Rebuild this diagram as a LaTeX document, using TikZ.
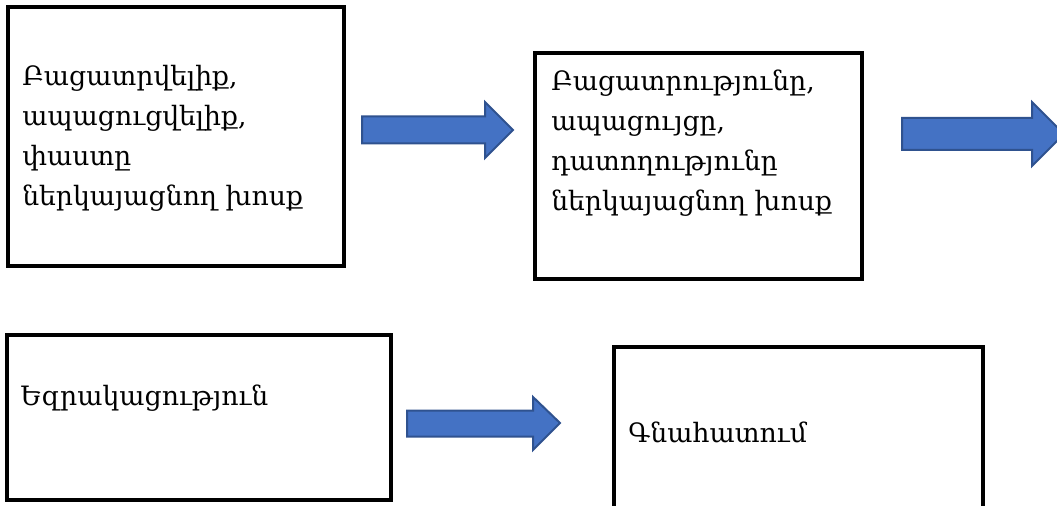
\documentclass[tikz,border=0pt]{standalone}
\usepackage{fontspec}
\setmainfont{DejaVu Serif}
\usetikzlibrary{calc}
\definecolor{arrowfill}{HTML}{4472C4}
\definecolor{arrowdraw}{HTML}{2F528F}
\tikzset{
  box/.style={draw=black, line width=2.4pt, fill=white, inner sep=0pt, outer sep=0pt, anchor=north west},
  boxtext/.style={inner sep=0pt, anchor=base west, align=left, font=\fontsize{20}{30}\selectfont},
  blockarrow/.style={fill=arrowfill, draw=arrowdraw, line width=1.5pt, line join=miter},
}
\begin{document}
\begin{tikzpicture}[x=0.75pt,y=-0.75pt]
\useasboundingbox (0,0) rectangle (1057,506);
% boxes
\node[box, minimum width=252pt, minimum height=194.25pt] (b1) at (8,7) {};
\node[box, minimum width=245.25pt, minimum height=169.5pt] (b2) at (535,53) {};
\node[box, minimum width=288pt, minimum height=123.75pt] (b3) at (7,335) {};
\node[box, minimum width=276.75pt, minimum height=150pt] (b4) at (614,347) {};
% texts (anchor = baseline of the last line)
\node[boxtext] (t1) at (22,206) {Բացատրվելիք,\\ապացուցվելիք,\\փաստը\\ներկայացնող խոսք};
\node[boxtext] (t2) at (551,211) {Բացատրությունը,\\ապացույցը,\\դատողությունը\\ներկայացնող խոսք};
\node[boxtext] (t3) at (20,405) {Եզրակացություն};
\node[boxtext] (t4) at (628,442) {Գնահատում};
% arrows
\coordinate (a1tip) at (513,130);
\coordinate (a1s) at ($(b1.east |- a1tip)+(18,0)$);
\draw[blockarrow] ($(a1s)+(0,-13.5)$) -- ++(123,0) -- ++(0,-14.5) -- (a1tip) -- ++(-28,28) -- ++(0,-14.5) -- ++(-123,0) -- cycle;
\coordinate (a2tip) at (1064,134);
\coordinate (a2s) at ($(b2.east |- a2tip)+(40,0)$);
\draw[blockarrow] ($(a2s)+(0,-16)$) -- ++(130,0) -- ++(0,-16) -- (a2tip) -- ++(-32,32) -- ++(0,-16) -- ++(-130,0) -- cycle;
\coordinate (a3tip) at (560,423);
\coordinate (a3s) at ($(b3.east |- a3tip)+(16,0)$);
\draw[blockarrow] ($(a3s)+(0,-12.5)$) -- ++(126,0) -- ++(0,-13.5) -- (a3tip) -- ++(-27,27) -- ++(0,-13.5) -- ++(-126,0) -- cycle;
\end{tikzpicture}
\end{document}
